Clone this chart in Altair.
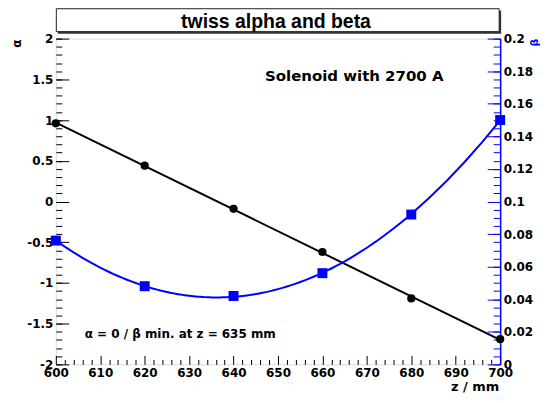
import altair as alt
import pandas as pd

# ---- data ----
z = [600, 620, 640, 660, 680, 700]
alpha = [0.96, 0.44, -0.09, -0.62, -1.19, -1.69]
beta = [0.076, 0.048, 0.042, 0.056, 0.092, 0.150]

title_text = ["twiss alpha and beta"]
note_top = ["Solenoid with 2700 A"]
note_bottom = ["α = 0 / β min. at z = 635 mm"]
x_title = ["z / mm"]
a_title = ["α"]
b_title = ["β"]

x_major = list(range(600, 701, 10))
x_minor = [v for v in range(600, 701, 2) if v % 10]
a_major = [round(-2 + 0.5 * i, 2) for i in range(9)]
a_minor = [round(-2 + 0.1 * i, 2) for i in range(41)]
b_major = [round(0.02 * i, 3) for i in range(11)]
b_minor = [round(0.005 * i, 3) for i in range(41)]

df = pd.DataFrame({"z": z, "alpha": alpha, "beta": beta})

W, H = 446, 327
FONT = "DejaVu Sans"
BLUE = "#0000ff"
LBL = "replace(format(datum.value, '~g'), '\u2212', '-')"

xs = alt.Scale(domain=[600, 700], nice=False, zero=False)
as_ = alt.Scale(domain=[-2, 2], nice=False, zero=False)
bs = alt.Scale(domain=[0, 0.2], nice=False, zero=False)


def ax(orient, values, size, labels=True, color="black"):
    kw = dict(orient=orient, values=values, tickSize=size, offset=-size,
              domain=False, grid=False, title=None, tickColor=color,
              tickWidth=1, labels=labels)
    if labels:
        kw.update(labelFont=FONT, labelFontSize=12, labelFontWeight="bold",
                  labelColor="black", labelPadding=3, labelFlush=False,
                  labelOverlap=False, labelExpr=LBL)
    return alt.Axis(**kw)


base = alt.Chart(df)

black_line = base.transform_regression("z", "alpha").mark_line(
    color="black", strokeWidth=2).encode(
    x=alt.X("z:Q", scale=xs, axis=ax("bottom", x_major, 9)),
    y=alt.Y("alpha:Q", scale=as_, axis=ax("left", a_major, 13)),
)

black_pts = base.mark_circle(color="black", size=68, opacity=1).encode(
    x=alt.X("z:Q", scale=xs, axis=ax("bottom", x_minor, 5, labels=False)),
    y=alt.Y("alpha:Q", scale=as_, axis=ax("left", a_minor, 6, labels=False)),
)

blue_line = base.transform_regression("z", "beta", method="poly", order=2).mark_line(
    color=BLUE, strokeWidth=2).encode(
    x=alt.X("z:Q", scale=xs, axis=None),
    y=alt.Y("beta:Q", scale=bs, axis=ax("right", b_major, 13, color=BLUE)),
)

blue_pts = base.mark_square(color=BLUE, size=100, opacity=1).encode(
    x=alt.X("z:Q", scale=xs, axis=None),
    y=alt.Y("beta:Q", scale=bs, axis=ax("right", b_minor, 7, labels=False, color=BLUE)),
)

blue_edge = base.mark_point(opacity=0).encode(
    x=alt.X("z:Q", scale=xs, axis=None),
    y=alt.Y("beta:Q", scale=bs, axis=alt.Axis(
        orient="right", domain=True, domainColor=BLUE, domainWidth=1.5,
        ticks=False, labels=False, grid=False, title=None)),
)

one = pd.DataFrame({"k": [0]})
shadow = alt.Chart(one).mark_rect(color="#333333").encode(
    x=alt.value(2), x2=alt.value(447), y=alt.value(-28), y2=alt.value(-5))
box = alt.Chart(one).mark_rect(fill="white", stroke="#222222", strokeWidth=1).encode(
    x=alt.value(0.5), x2=alt.value(445), y=alt.value(-30), y2=alt.value(-7))


def label(txt, x, y, size, color="black", align="left", angle=0,
          font=FONT, baseline="alphabetic"):
    return alt.Chart(pd.DataFrame({"t": txt})).mark_text(
        font=font, fontSize=size, fontWeight="bold", color=color,
        align=align, baseline=baseline, angle=angle).encode(
        text="t:N", x=alt.value(x), y=alt.value(y))


t_title = label(title_text, 221, -10.5, 19.5, align="center", font="Liberation Sans")
t_top = label(note_top, 210, 43, 15)
t_bot = label(note_bottom, 29, 301, 12)
t_x = label(x_title, 445, 354, 13, align="right")
t_a = label(a_title, -39, 5, 12, align="center", angle=270, baseline="middle")
t_b = label(b_title, 481, 4, 11, color=BLUE, align="center", angle=270, baseline="middle")

chart = alt.layer(
    shadow, box, black_line, black_pts, blue_line, blue_pts, blue_edge,
    t_title, t_top, t_bot, t_x, t_a, t_b,
).resolve_scale(y="independent").resolve_axis(
    x="independent", y="independent"
).properties(
    width=W, height=H,
    autosize=alt.AutoSizeParams(type="none"),
    padding={"left": 48, "top": 30, "right": 42, "bottom": 29},
).configure_view(stroke="black", strokeWidth=1).configure(background="white")

chart.save("out.html", embed_options={"renderer": "svg", "actions": False})
